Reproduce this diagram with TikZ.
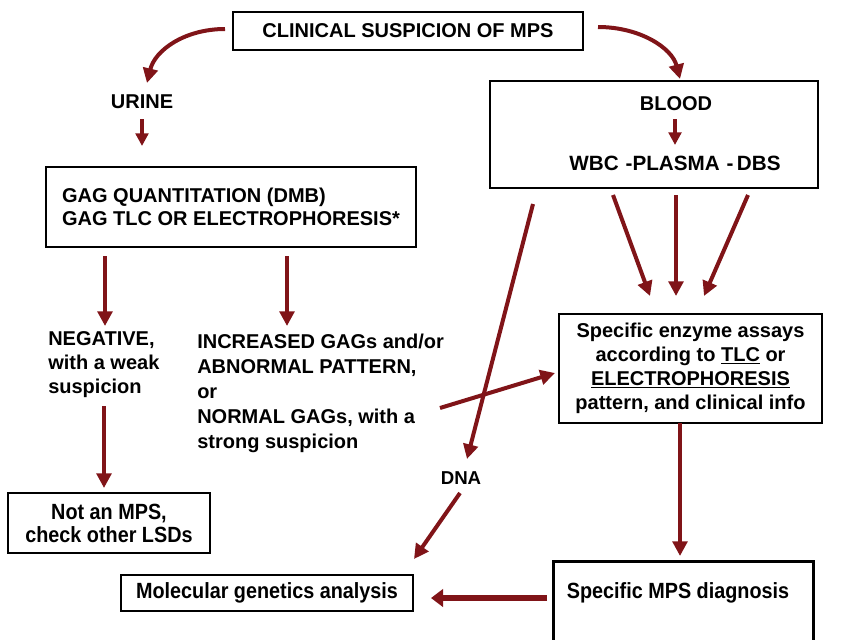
\documentclass[tikz,border=0pt]{standalone}
\usepackage{fontspec}
\setmainfont{Liberation Sans}
\newfontfamily\narrowf{Liberation Sans}[FakeStretch=0.9]
\usetikzlibrary{arrows.meta,calc}
\definecolor{arrowred}{RGB}{128,20,24}
\begin{document}
\begin{tikzpicture}[x=0.75pt,y=-0.75pt,
  box/.style={draw=black, line width=2.2pt, inner sep=0pt, align=center,
    font=\bfseries\fontsize{15}{18}\selectfont},
  nbox/.style={box, font=\narrowf\bfseries\fontsize{16.5}{17.25}\selectfont},
  txt/.style={inner sep=0pt, font=\bfseries\fontsize{15}{18}\selectfont},
  arr/.style={draw=arrowred, line width=3pt, -{Triangle[length=11pt,width=11pt]}, arrowred},
  sarr/.style={draw=arrowred, line width=2.6pt, -{Triangle[length=9.5pt,width=9.5pt]}, arrowred},
  barr/.style={draw=arrowred, line width=4.5pt, -{Triangle[length=9pt,width=13pt]}, arrowred}
]
\useasboundingbox (0,0) rectangle (848,639);

% boxes
\node[box, minimum width=262.5pt, minimum height=28.5pt] (title) at (408,31) {CLINICAL SUSPICION OF MPS};
\node[box, minimum width=277.5pt, minimum height=60pt, align=left,
  font=\bfseries\fontsize{15}{17.25}\selectfont] (gag) at (231,207)
  {GAG QUANTITATION (DMB)\\GAG TLC OR ELECTROPHORESIS*};
\node[box, minimum width=246pt, minimum height=80.25pt] (blood) at (654,134.5) {};
\node[box, minimum width=197.25pt, minimum height=81.75pt] (enz) at (690.5,368.5)
  {Specific enzyme assays\\according to \underline{TLC} or\\\underline{ELECTROPHORESIS}\\pattern, and clinical info};
\node[nbox, minimum width=151.5pt, minimum height=45pt] (notmps) at (109,523) {Not an MPS,\\check other LSDs};
\node[nbox, minimum width=219pt, minimum height=27pt] (molec) at (267,593) {Molecular genetics analysis};
\node[box, minimum width=195pt, minimum height=75pt, anchor=north west] (specbox) at (552,560) {};
\node[txt, font=\narrowf\bfseries\fontsize{16.5}{20}\selectfont] (spec) at (678,593) {Specific MPS diagnosis};

% plain texts
\node[txt] (urine) at (142,102) {URINE};
\node[txt] (bloodt) at (676,104) {BLOOD};
\node[txt, font=\bfseries\fontsize{15.5}{18}\selectfont] (wbc) at (675,163) {WBC\,\,-PLASMA\,\,-\,DBS};
\node[txt, anchor=west, align=left] (neg) at (48,365) {NEGATIVE,\\with a weak\\suspicion};
\node[txt, anchor=west, align=left, font=\bfseries\fontsize{15}{18.75}\selectfont] (incr) at (197,393)
  {INCREASED GAGs and/or\\ABNORMAL PATTERN,\\or\\NORMAL GAGs, with a\\strong suspicion};
\node[txt, font=\bfseries\fontsize{14}{16}\selectfont] (dna) at (461,478) {DNA};

% connector end points
\coordinate (a1s) at (225,29);   \coordinate (a1e) at (147,83);
\coordinate (a2s) at (598,27);   \coordinate (a2e) at (680,79);
\coordinate (a3s) at (142,119);  \coordinate (a3e) at (142,146);
\coordinate (a4s) at (675,119);  \coordinate (a4e) at (675,145);
\coordinate (a5s) at (105,256);  \coordinate (a5e) at (105,326);
\coordinate (a6s) at (287,256);  \coordinate (a6e) at (287,326);
\coordinate (a7s) at (104,406);  \coordinate (a7e) at (104,488);
\coordinate (a8s) at (613,195);  \coordinate (a8e) at (650,296);
\coordinate (a9s) at (676,195);  \coordinate (a9e) at (676,296);
\coordinate (a10s) at (748,195); \coordinate (a10e) at (704,296);
\coordinate (a11s) at (440,408); \coordinate (a11e) at (555,373);
\coordinate (a12s) at (533,204); \coordinate (a12e) at (467,459);
\coordinate (a13s) at (460,493); \coordinate (a13e) at (414,559);
\coordinate (a14s) at (680,423); \coordinate (a14e) at (680,556);
\coordinate (a15s) at (547,598); \coordinate (a15e) at (431,598);

% connectors
\draw[arr] (a1s) .. controls (185,29) and (155,50) .. (a1e);
\draw[arr] (a2s) .. controls (640,27) and (672,48) .. (a2e);
\draw[sarr] (a3s) -- (a3e);
\draw[sarr] (a4s) -- (a4e);
\draw[arr] (a5s) -- (a5e);
\draw[arr] (a6s) -- (a6e);
\draw[arr] (a7s) -- (a7e);
\draw[arr] (a8s) -- (a8e);
\draw[arr] (a9s) -- (a9e);
\draw[arr] (a10s) -- (a10e);
\draw[arr] (a11s) -- (a11e);
\draw[arr] (a12s) -- (a12e);
\draw[arr] (a13s) -- (a13e);
\draw[arr] (a14s) -- (a14e);
\draw[barr] (a15s) -- (a15e);
\end{tikzpicture}
\end{document}
